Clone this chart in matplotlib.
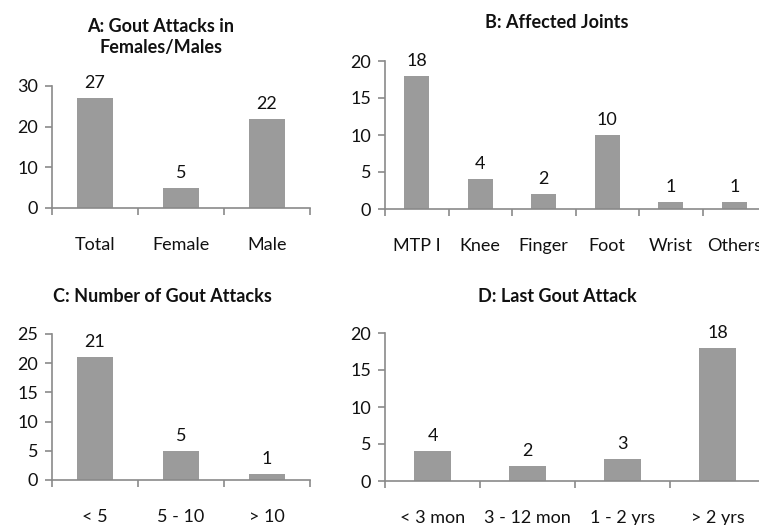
import matplotlib
matplotlib.use("Agg")
import matplotlib.pyplot as plt

W, H = 759, 525

cat_a = ["Total", "Female", "Male"]
val_a = [27, 5, 22]
cat_b = ["MTP I", "Knee", "Finger", "Foot", "Wrist", "Others"]
val_b = [18, 4, 2, 10, 1, 1]
cat_c = ["< 5", "5 - 10", "> 10"]
val_c = [21, 5, 1]
cat_d = ["< 3 mon", "3 - 12 mon", "1 - 2 yrs", "> 2 yrs"]
val_d = [4, 2, 3, 18]

titles = ["A: Gout Attacks in\nFemales/Males", "B: Affected Joints",
          "C: Number of Gout Attacks", "D: Last Gout Attack"]

plt.rcParams['font.family'] = ['Lato', 'DejaVu Sans']
BAR = "#9b9b9b"
AX = "#8a8a8a"
FS = 13

fig = plt.figure(figsize=(W / 100, H / 100), dpi=100)


def pax(l, r, b, t):
    return fig.add_axes([l / W, 1 - b / H, (r - l) / W, (b - t) / H])


def panel(ax, cats, vals, ymax, step, width):
    n = len(cats)
    xs = list(range(n))
    ax.bar(xs, vals, width=width, color=BAR, edgecolor="none")
    ax.set_xlim(-0.5, n - 0.5)
    ax.set_ylim(0, ymax)
    ax.set_yticks(range(0, ymax + 1, step))
    ax.set_xticks(xs)
    ax.set_xticklabels(cats)
    ax.set_xticks([i - 0.5 for i in range(n + 1)], minor=True)
    for s in ("top", "right"):
        ax.spines[s].set_visible(False)
    for s in ("left", "bottom"):
        ax.spines[s].set_color(AX)
        ax.spines[s].set_linewidth(1.2)
    ax.tick_params(axis="x", which="major", length=0, pad=21, labelsize=FS, colors="#111111")
    ax.tick_params(axis="x", which="minor", length=5, color=AX, width=1.2)
    ax.tick_params(axis="y", length=5, color=AX, width=1.2, pad=5, labelsize=FS, labelcolor="#111111")
    for x, v in zip(xs, vals):
        ax.annotate(str(v), (x, v), xytext=(0, 5), textcoords="offset points",
                    ha="center", va="bottom", fontsize=FS, color="#111111")
    ax.set_facecolor("none")


axA = pax(52, 310, 208, 86)
panel(axA, cat_a, val_a, 30, 10, 0.42)
axB = pax(385, 766, 209, 61)
panel(axB, cat_b, val_b, 20, 5, 0.4)
axC = pax(52, 310, 480, 334)
panel(axC, cat_c, val_c, 25, 5, 0.41)
axD = pax(385, 765, 481, 333)
panel(axD, cat_d, val_d, 20, 5, 0.39)

tpos = [(161, 37), (557, 23), (162, 297), (557, 297)]
for (x, y), t in zip(tpos, titles):
    fig.text(x / W, 1 - y / H, t, ha="center", va="center", fontsize=13,
             fontweight="bold", color="#111111", linespacing=1.35)

fig.savefig("out.png", dpi=100)
